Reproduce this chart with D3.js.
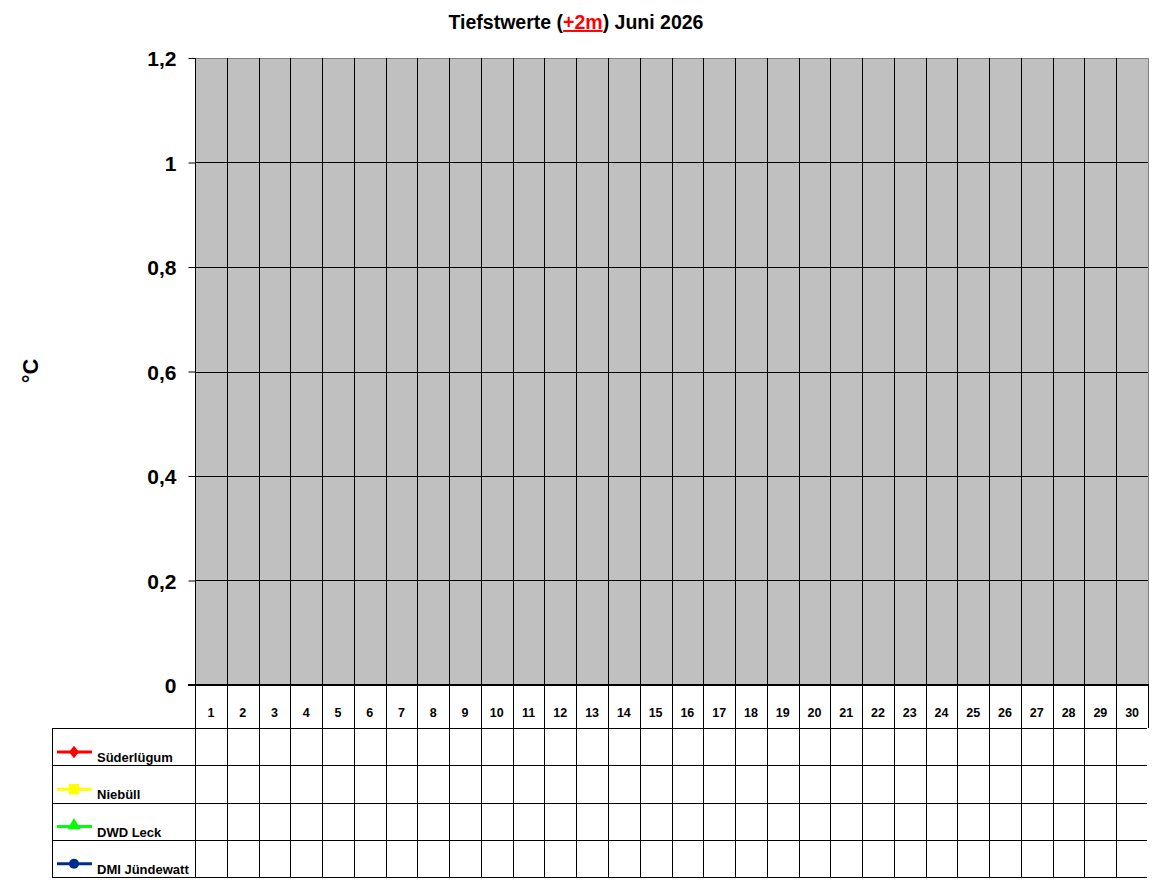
<!DOCTYPE html>
<html lang="de">
<head>
  <meta charset="UTF-8" />
  <title>Tiefstwerte Juni 2026</title>
  <script src="https://d3js.org/d3.v7.min.js"></script>
  <style>
    body { margin: 0; background: #fff; font-family: Arial, "Liberation Sans", sans-serif; }
    svg text { font-family: Arial, "Liberation Sans", sans-serif; font-weight: bold; fill: #000; }
  </style>
</head>
<body>
  <svg width="1152" height="882"></svg>

  <script>
    // Days of the month (x categories)
    const days = [1, 2, 3, 4, 5, 6, 7, 8, 9, 10, 11, 12, 13, 14, 15,
                  16, 17, 18, 19, 20, 21, 22, 23, 24, 25, 26, 27, 28, 29, 30];

    // Y axis ticks
    const yTicks = [0, 0.2, 0.4, 0.6, 0.8, 1, 1.2];

    // Series (no readings entered yet for this month)
    const seriesNames = ["Süderlügum", "Niebüll", "DWD Leck", "DMI Jündewatt"];
    const seriesColors = ["#ff0000", "#ffff00", "#00ff00", "#002c8c"];
    const suederluegum = [];
    const niebuell = [];
    const dwdLeck = [];
    const dmiJuendewatt = [];

    // wider diamond than d3.symbolDiamond
    const wideDiamond = {
      draw(ctx, size) {
        const h = Math.sqrt(size / 1.5);
        const w = h * 0.8;
        ctx.moveTo(0, -h);
        ctx.lineTo(w, 0);
        ctx.lineTo(0, h);
        ctx.lineTo(-w, 0);
        ctx.closePath();
      }
    };

    const series = seriesNames.map((name, i) => ({
      name,
      color: seriesColors[i],
      symbol: [wideDiamond, d3.symbolSquare, d3.symbolTriangle, d3.symbolCircle][i],
      size: [60, 110, 75, 80][i],
      values: [suederluegum, niebuell, dwdLeck, dmiJuendewatt][i]
    }));

    const svg = d3.select("svg");
    const plot = { left: 195, right: 1148, top: 58, bottom: 685 };
    const table = { left: 52, header: 728, rowH: 37.25 };

    const x = d3.scaleBand()
      .domain(days)
      .range([plot.left, plot.right])
      .padding(0);

    const y = d3.scaleLinear()
      .domain([0, 1.2])
      .range([plot.bottom, plot.top]);

    const fmt = v => d3.format(".1~f")(v).replace(".", ",");

    // Plot background
    svg.append("rect")
      .attr("x", plot.left)
      .attr("y", plot.top)
      .attr("width", plot.right - plot.left)
      .attr("height", plot.bottom - plot.top)
      .attr("fill", "#c0c0c0");

    // Horizontal grid lines
    svg.append("g")
      .selectAll("line")
      .data(yTicks.filter(t => t > 0 && t < 1.2))
      .join("line")
      .attr("x1", plot.left).attr("x2", plot.right)
      .attr("y1", d => Math.round(y(d)) + 0.5).attr("y2", d => Math.round(y(d)) + 0.5)
      .attr("stroke", "#000");

    // Plot border (top and right in grey)
    svg.append("path")
      .attr("d", `M${plot.left},${plot.top + 0.5}H${plot.right + 0.5}V${plot.bottom}`)
      .attr("fill", "none")
      .attr("stroke", "#808080");

    // Table rows
    const rowYs = [table.header].concat(series.map((s, i) => table.header + (i + 1) * table.rowH));
    const tableBottom = rowYs[rowYs.length - 1];

    // Vertical day separators (through plot and table)
    const bounds = days.slice(1).map(d => x(d));
    svg.append("g")
      .selectAll("line")
      .data(bounds)
      .join("line")
      .attr("x1", d => Math.round(d) + 0.5).attr("x2", d => Math.round(d) + 0.5)
      .attr("y1", plot.top).attr("y2", tableBottom)
      .attr("stroke", "#000");

    // Right border of header row
    svg.append("line")
      .attr("x1", plot.right + 0.5).attr("x2", plot.right + 0.5)
      .attr("y1", plot.bottom).attr("y2", table.header)
      .attr("stroke", "#000");

    // Horizontal table lines
    svg.append("g")
      .selectAll("line")
      .data(rowYs)
      .join("line")
      .attr("x1", table.left).attr("x2", plot.right - 1)
      .attr("y1", d => Math.round(d) + 0.5).attr("y2", d => Math.round(d) + 0.5)
      .attr("stroke", "#000");

    // Legend column left border
    svg.append("line")
      .attr("x1", table.left + 0.5).attr("x2", table.left + 0.5)
      .attr("y1", table.header).attr("y2", tableBottom)
      .attr("stroke", "#000");

    // Y axis
    const yAxis = d3.axisLeft(y)
      .tickValues(yTicks)
      .tickSize(7)
      .tickPadding(12)
      .tickFormat(fmt);

    const gy = svg.append("g")
      .attr("transform", `translate(${plot.left + 0.5},0)`)
      .call(yAxis);
    gy.select(".domain").remove();
    gy.selectAll(".tick line").attr("stroke", "#000");
    gy.selectAll(".tick text")
      .attr("font-size", 21)
      .attr("dy", "0.36em");
    gy.append("line")
      .attr("x1", 0).attr("x2", 0)
      .attr("y1", plot.top).attr("y2", tableBottom)
      .attr("stroke", "#000");

    // Zero line (thicker)
    svg.append("line")
      .attr("x1", plot.left - 7).attr("x2", plot.right + 1)
      .attr("y1", y(0)).attr("y2", y(0))
      .attr("stroke", "#000")
      .attr("stroke-width", 2);

    // Day labels in header row
    svg.append("g")
      .selectAll("text")
      .data(days)
      .join("text")
      .attr("x", d => x(d) + x.bandwidth() / 2)
      .attr("y", 717)
      .attr("text-anchor", "middle")
      .attr("font-size", 12.5)
      .text(d => d);

    // Series lines (drawn from whatever values exist)
    const line = d3.line()
      .defined(d => d.v != null)
      .x(d => x(d.day) + x.bandwidth() / 2)
      .y(d => y(d.v));

    series.forEach(s => {
      const pts = days.map((day, i) => ({ day, v: s.values[i] }));
      svg.append("path")
        .datum(pts)
        .attr("fill", "none")
        .attr("stroke", s.color)
        .attr("stroke-width", 3)
        .attr("d", line);
      svg.append("g")
        .selectAll("path")
        .data(pts.filter(p => p.v != null))
        .join("path")
        .attr("transform", p => `translate(${x(p.day) + x.bandwidth() / 2},${y(p.v)})`)
        .attr("d", d3.symbol(s.symbol, s.size))
        .attr("fill", s.color);
    });

    // Legend entries + table values
    series.forEach((s, i) => {
      const top = rowYs[i];
      const ly = top + 24;
      const g = svg.append("g");
      g.append("line")
        .attr("x1", 57).attr("x2", 92)
        .attr("y1", ly).attr("y2", ly)
        .attr("stroke", s.color)
        .attr("stroke-width", 3);
      g.append("path")
        .attr("transform", `translate(74,${i === 2 ? ly - 1 : ly})`)
        .attr("d", d3.symbol(s.symbol, s.size)())
        .attr("fill", s.color);
      g.append("text")
        .attr("x", 97)
        .attr("y", top + 34)
        .attr("font-size", 13)
        .text(s.name);

      svg.append("g")
        .selectAll("text")
        .data(days.map((day, j) => ({ day, v: s.values[j] })).filter(p => p.v != null))
        .join("text")
        .attr("x", p => x(p.day) + x.bandwidth() / 2)
        .attr("y", top + 24)
        .attr("text-anchor", "middle")
        .attr("font-size", 11)
        .text(p => fmt(p.v));
    });

    // Y axis title
    svg.append("text")
      .attr("transform", "translate(38,371) rotate(-90)")
      .attr("text-anchor", "middle")
      .attr("font-size", 22)
      .text("°C");

    // Title
    const title = svg.append("text")
      .attr("x", 576)
      .attr("y", 29)
      .attr("text-anchor", "middle")
      .attr("font-size", 19.5);
    title.append("tspan").text("Tiefstwerte (");
    title.append("tspan")
      .style("fill", "#ff0000")
      .attr("text-decoration", "underline")
      .text("+2m");
    title.append("tspan").text(") Juni 2026");
  </script>
</body>
</html>
